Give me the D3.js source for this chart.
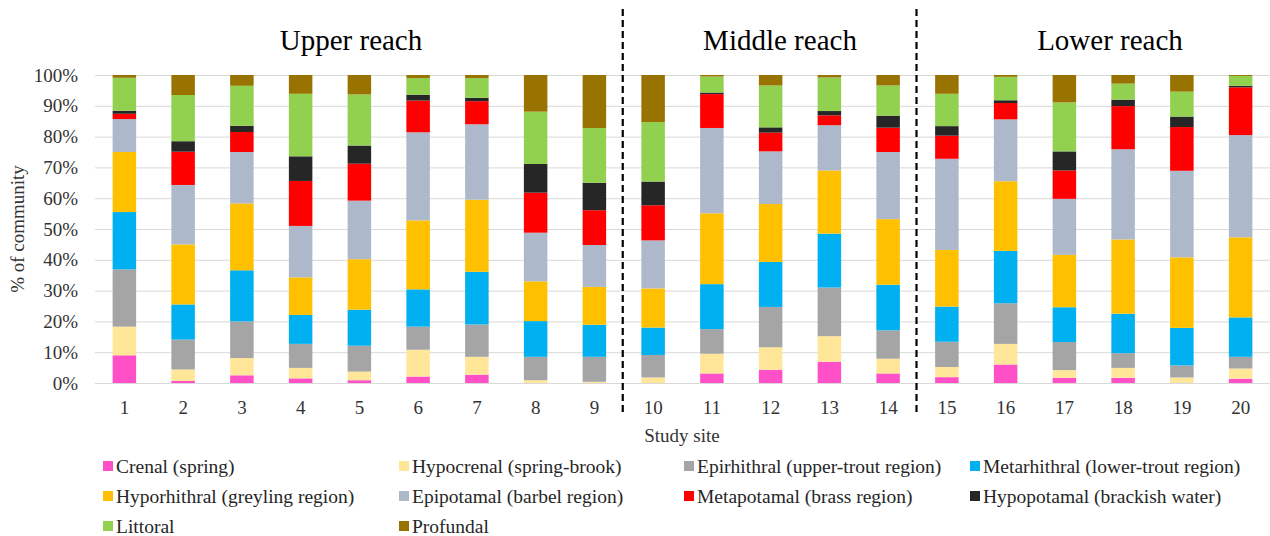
<!DOCTYPE html>
<html><head><meta charset="utf-8">
<script src="https://cdn.jsdelivr.net/npm/d3@7/dist/d3.min.js"></script>
<style>body{margin:0;background:#fff}svg{display:block;font-family:"Liberation Serif","Times New Roman",serif}</style>
</head><body><svg id="c" width="1270" height="536"></svg>
<script>
const sites = ["1","2","3","4","5","6","7","8","9","10","11","12","13","14","15","16","17","18","19","20"];
const seriesNames = ["Crenal (spring)","Hypocrenal (spring-brook)","Epirhithral (upper-trout region)","Metarhithral (lower-trout region)","Hyporhithral (greyling region)","Epipotamal (barbel region)","Metapotamal (brass region)","Hypopotamal (brackish water)","Littoral","Profundal"];
const crenal      = [9.0,0.65,2.5,1.5,0.9,2.1,2.7,0,0,0,3.1,4.3,6.9,3.1,1.9,6.0,1.7,1.7,0,1.4];
const hypocrenal  = [9.3,3.75,5.6,3.4,2.8,8.7,5.8,0.9,0.4,1.8,6.4,7.3,8.3,4.8,3.3,6.7,2.5,3.2,1.8,3.3];
const epirhithral = [18.6,9.7,11.9,7.8,8.4,7.5,10.5,7.6,8.1,7.3,8.0,13.1,15.8,9.2,8.2,13.2,9.1,4.8,3.9,3.8];
const metarhithral= [18.6,11.4,16.6,9.4,11.7,12.1,17.1,11.6,10.4,8.9,14.6,14.6,17.5,14.8,11.4,17.0,11.3,12.8,12.2,12.8];
const hyporhithral= [19.5,19.5,21.7,12.2,16.4,22.4,23.4,12.9,12.3,12.7,23.0,18.8,20.5,21.3,18.4,22.6,17.0,24.1,22.9,26.0];
const epipotamal  = [10.7,19.3,16.7,16.7,19.0,28.6,24.5,15.8,13.6,15.6,27.7,17.1,14.7,21.8,29.6,20.1,18.2,29.3,28.1,33.2];
const metapotamal = [1.7,10.8,6.5,14.6,12.0,10.3,7.5,13.0,11.3,11.4,11.0,6.1,3.2,7.9,7.5,5.3,9.2,14.0,14.2,15.5];
const hypopotamal = [1.0,3.4,2.0,8.0,5.9,1.9,1.1,9.3,8.9,7.7,0.5,1.7,1.4,3.9,3.1,0.9,6.2,2.1,3.4,0.5];
const littoral    = [10.7,15.0,13.0,20.3,16.6,5.4,6.4,17.0,17.8,19.3,5.2,13.6,10.9,9.8,10.5,7.6,15.9,5.2,8.1,3.2];
const profundal   = [0.9,6.5,3.5,6.1,6.3,1.0,1.0,11.9,17.2,15.3,0.5,3.4,0.8,3.4,6.1,0.6,8.9,2.8,5.4,0.3];
const yTicks = [0,10,20,30,40,50,60,70,80,90,100];
const reaches = ["Upper reach","Middle reach","Lower reach"];
const reachSites = [["1","9"],["10","14"],["15","20"]];
const colors = ["#FF50C8","#FFE699","#A5A5A5","#00B0F0","#FFC000","#ADB9CA","#FF0000","#262626","#92D050","#997300"];

const allSeries = [crenal,hypocrenal,epirhithral,metarhithral,hyporhithral,epipotamal,metapotamal,hypopotamal,littoral,profundal];
const table = sites.map((s,i)=>{const o={site:s};seriesNames.forEach((k,j)=>o[k]=allSeries[j][i]);return o;});
const stacked = d3.stack().keys(seriesNames)(table);

const svg = d3.select("#c");
const x = d3.scaleBand().domain(sites).range([95,1270]).paddingInner(0.6).paddingOuter(0.3);
const y = d3.scaleLinear().domain([0,100]).range([383,75]);
const color = d3.scaleOrdinal().domain(seriesNames).range(colors);

// gridlines
svg.append("g").selectAll("line").data(yTicks).join("line")
  .attr("x1",95).attr("x2",1270).attr("y1",d=>y(d)+0.5).attr("y2",d=>y(d)+0.5)
  .attr("stroke","#d9d9d9").attr("stroke-width",1);

// y axis labels
const yAxis = d3.axisLeft(y).tickValues(yTicks).tickFormat(d=>d+"%").tickSize(0).tickPadding(0);
svg.append("g").attr("transform","translate(78,0)").call(yAxis)
  .call(g=>g.select(".domain").remove())
  .selectAll("text").attr("font-size",19).attr("font-family","Liberation Serif").attr("fill","#333");

// bars
svg.append("g").selectAll("g").data(stacked).join("g").attr("fill",d=>color(d.key))
  .selectAll("rect").data(d=>d).join("rect")
  .attr("x",d=>x(d.data.site)).attr("width",x.bandwidth())
  .attr("y",d=>y(d[1])).attr("height",d=>Math.max(0,y(d[0])-y(d[1])));

// x axis labels
const xAxis = d3.axisBottom(x).tickSize(0).tickPadding(0);
svg.append("g").attr("transform","translate(0,400)").call(xAxis)
  .call(g=>g.select(".domain").remove())
  .selectAll("text").attr("font-size",19).attr("font-family","Liberation Serif").attr("fill","#333");

// dashed separators
const seps = [[reachSites[0][1],reachSites[1][0]],[reachSites[1][1],reachSites[2][0]]];
svg.append("g").selectAll("line").data(seps).join("line")
  .attr("x1",d=>(x(d[0])+x(d[1])+x.bandwidth())/2-1).attr("x2",d=>(x(d[0])+x(d[1])+x.bandwidth())/2-1)
  .attr("y1",9).attr("y2",412).attr("stroke","#000").attr("stroke-width",2.2).attr("stroke-dasharray","7,4");

// reach titles
const titleX = [351,780,1110];
svg.append("g").selectAll("text").data(reaches).join("text")
  .attr("x",(d,i)=>titleX[i])
  .attr("y",50).attr("text-anchor","middle").attr("font-size",29).attr("fill","#000").text(d=>d);

// axis titles
svg.append("text").attr("x",682).attr("y",442).attr("text-anchor","middle").attr("font-size",19).attr("fill","#333").text("Study site");
svg.append("text").attr("transform","translate(24,229) rotate(-90)").attr("text-anchor","middle").attr("font-size",19).attr("fill","#333").text("% of community");

// legend
const colX = [116,412,697,983];
const rowY = [466,496,526];
const leg = svg.append("g").selectAll("g").data(seriesNames).join("g")
  .attr("transform",(d,i)=>`translate(${colX[i%4]},${rowY[Math.floor(i/4)]})`);
leg.append("rect").attr("x",-13).attr("y",-5).attr("width",10).attr("height",10).attr("fill",d=>color(d));
leg.append("text").attr("x",0).attr("y",0).attr("dy","0.35em").attr("font-size",19.5).attr("fill","#262626").text(d=>d);
</script></body></html>
